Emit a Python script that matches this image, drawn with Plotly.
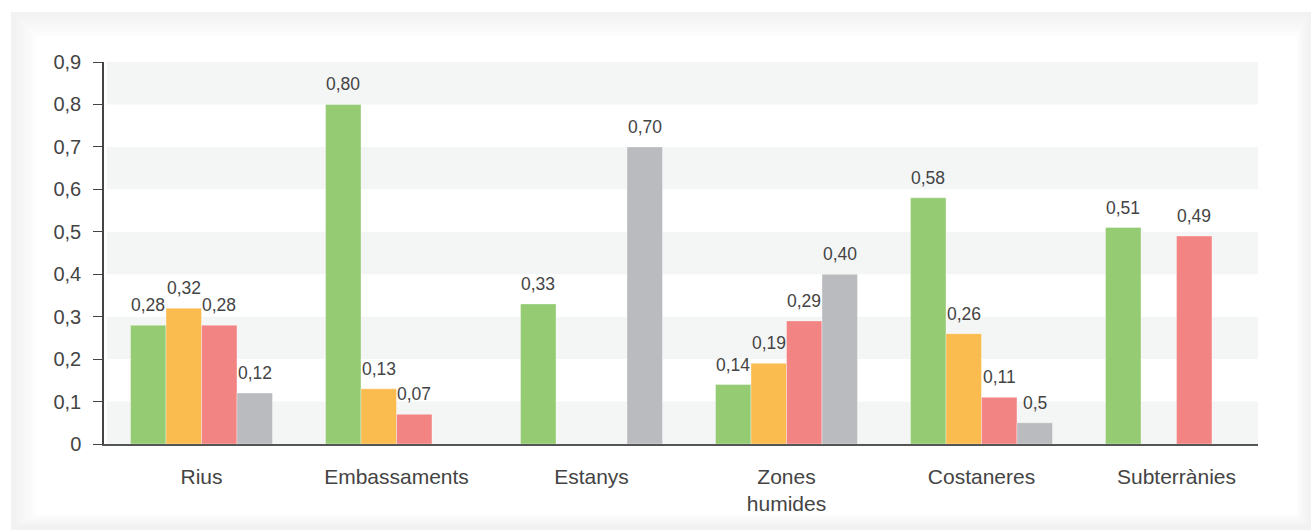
import plotly.graph_objects as go

# Water body categories (x axis)
categories = ["Rius", "Embassaments", "Estanys", "Zones<br>humides", "Costaneres", "Subterrànies"]

# Four series per category; None = no bar drawn
green_vals = [0.28, 0.80, 0.33, 0.14, 0.58, 0.51]
orange_vals = [0.32, 0.13, None, 0.19, 0.26, None]
red_vals = [0.28, 0.07, None, 0.29, 0.11, 0.49]
gray_vals = [0.12, None, 0.70, 0.40, 0.05, None]

# Value labels printed above each bar
green_labels = ["0,28", "0,80", "0,33", "0,14", "0,58", "0,51"]
orange_labels = ["0,32", "0,13", None, "0,19", "0,26", None]
red_labels = ["0,28", "0,07", None, "0,29", "0,11", "0,49"]
gray_labels = ["0,12", None, "0,70", "0,40", "0,5", None]

# Y axis ticks
y_tickvals = [0, 0.1, 0.2, 0.3, 0.4, 0.5, 0.6, 0.7, 0.8, 0.9]
y_ticktext = ["0", "0,1", "0,2", "0,3", "0,4", "0,5", "0,6", "0,7", "0,8", "0,9"]

series = [
    (green_vals, green_labels, "#95cb72"),
    (orange_vals, orange_labels, "#fbbc4f"),
    (red_vals, red_labels, "#f38484"),
    (gray_vals, gray_labels, "#babbbe"),
]

W, H = 1311, 530
ML, MR, MT, MB = 104, 53, 62, 86
PW, PH = W - ML - MR, H - MT - MB
FONT = "Liberation Sans, Arial, sans-serif"
TXT = "#444444"


def px_x(p):
    return (p - ML) / PW


def px_y(p):
    return (H - MB - p) / PH


fig = go.Figure()
for vals, _, color in series:
    fig.add_trace(go.Bar(
        x=categories, y=vals,
        marker=dict(color=color, line=dict(width=0.6, color="rgba(255,255,255,0.6)")),
        hoverinfo="skip", showlegend=False,
    ))

# Framed card background with a soft inner edge
shapes = []
shapes.append(dict(type="rect", xref="paper", yref="paper", layer="below",
                   x0=px_x(11), x1=px_x(W + 2), y0=px_y(H + 2), y1=px_y(12),
                   fillcolor="#f2f2f2", line=dict(width=0)))
steps = ["#f4f4f4", "#f6f6f6", "#f8f8f8", "#fafafa", "#fcfcfc", "#ffffff"]
for k, c in enumerate(steps):
    ins = 4 + k * 4
    shapes.append(dict(type="rect", xref="paper", yref="paper", layer="below",
                       x0=px_x(12 + ins), x1=px_x(1311 - ins // 2 - 2),
                       y0=px_y(530 - ins // 2 - 3), y1=px_y(12 + ins),
                       fillcolor=c, line=dict(width=0)))

# Alternating horizontal bands
for lo in [0.0, 0.2, 0.4, 0.6, 0.8]:
    shapes.append(dict(type="rect", xref="paper", yref="y", layer="below",
                       x0=px_x(107), x1=1, y0=lo, y1=lo + 0.1,
                       fillcolor="#f4f6f5", line=dict(width=0)))

# Value labels above bars
bar_px = 35.5
annotations = []
for j, (vals, labels, _) in enumerate(series):
    for cat, v, lab in zip(categories, vals, labels):
        if v is None or lab is None:
            continue
        annotations.append(dict(
            x=cat, y=v, xref="x", yref="y", text=lab, showarrow=False,
            xshift=(j - 1.5) * bar_px, yshift=8, yanchor="bottom",
            font=dict(family=FONT, size=17.5, color=TXT),
        ))

fig.update_layout(
    width=W, height=H,
    margin=dict(l=ML, r=MR, t=MT, b=MB, pad=0),
    paper_bgcolor="white",
    plot_bgcolor="rgba(0,0,0,0)",
    barmode="group",
    bargap=0.272,
    bargroupgap=0,
    shapes=shapes,
    annotations=annotations,
    font=dict(family=FONT, color=TXT),
    xaxis=dict(
        range=[-0.5, 5.418], showgrid=False, zeroline=False,
        showline=True, linecolor="#555555", linewidth=1.5,
        ticks="", tickfont=dict(size=21, color=TXT),
        ticklabelstandoff=13, fixedrange=True,
    ),
    yaxis=dict(
        range=[0, 0.9], tickvals=y_tickvals, ticktext=y_ticktext,
        showgrid=False, zeroline=False,
        showline=True, linecolor="#444444", linewidth=1.5,
        ticks="outside", ticklen=9, tickwidth=1.2, tickcolor="#444444",
        tickfont=dict(size=20, color=TXT), ticklabelstandoff=8,
        fixedrange=True,
    ),
)

fig.write_html("out.html", config={"displayModeBar": False})
